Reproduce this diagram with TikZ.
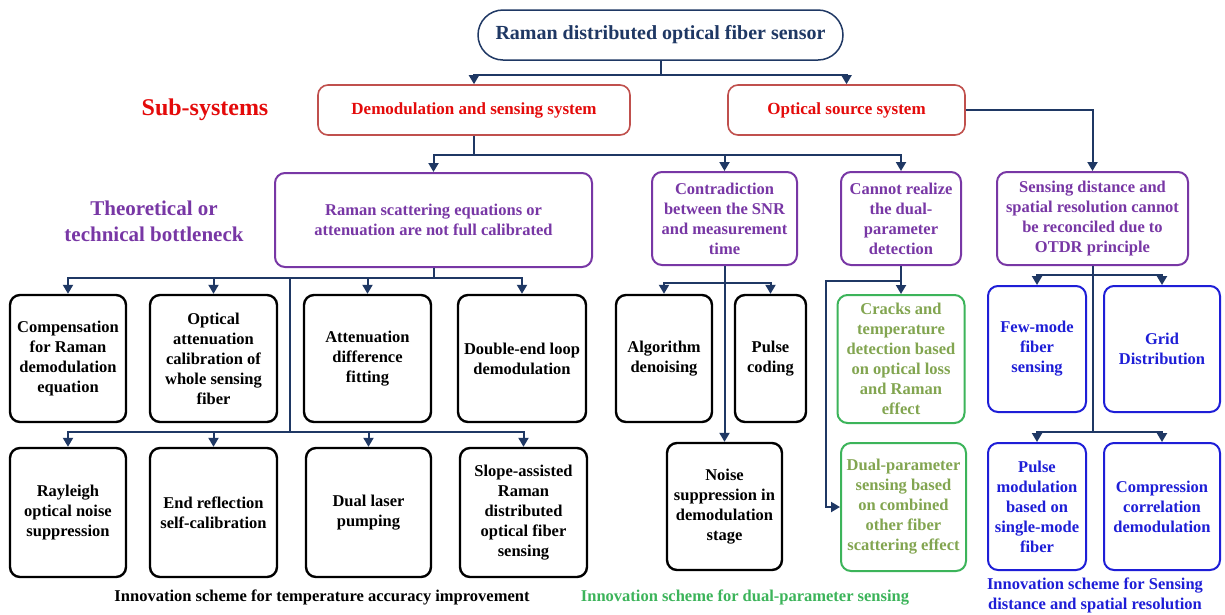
\documentclass[tikz,border=0pt]{standalone}
\usepackage{fontspec}
\setmainfont{Liberation Serif}
\usetikzlibrary{arrows.meta}

\definecolor{navy}{RGB}{31,56,100}
\definecolor{subred}{RGB}{192,80,77}
\definecolor{txtred}{RGB}{228,10,10}
\definecolor{bottlepurple}{RGB}{120,55,165}
\definecolor{schgreen}{RGB}{60,180,90}
\definecolor{schgreentext}{RGB}{130,165,80}
\definecolor{schblue}{RGB}{30,30,215}

\begin{document}
\begin{tikzpicture}[
x=1pt, y=-1pt,
font=\fontsize{16.5}{20}\selectfont\bfseries,
box/.style={draw, rectangle, rounded corners=10pt, align=center, line width=2pt, inner sep=1pt},
subbox/.style={box, draw=subred, text=txtred, line width=1.6pt, minimum height=50pt, font=\fontsize{17}{20}\selectfont\bfseries},
neckbox/.style={box, draw=bottlepurple, text=bottlepurple, minimum height=93pt},
plainbox/.style={box, draw=black, text=black, line width=2.4pt},
greenbox/.style={box, draw=schgreen, text=schgreentext},
bluebox/.style={box, draw=schblue, text=schblue},
label/.style={align=center, inner sep=0pt},
line/.style={draw=navy, line width=2pt},
arrow/.style={line, -{Triangle[width=10pt,length=9pt]}}
]

\fill[white] (0,0) rectangle (1225,614);
\useasboundingbox (0,0) rectangle (1225,614);

% levels of the connectors
\coordinate (j1) at (0,75);
\coordinate (j2) at (0,155);
\coordinate (j3) at (0,278);
\coordinate (j4) at (0,432);
\coordinate (j5) at (0,283);
\coordinate (j7) at (0,275);
\coordinate (trunk) at (290,278);
\coordinate (side) at (826,281);

% top
\node[box, draw=navy, text=navy, line width=1.5pt, rounded corners=25pt, minimum width=365pt, minimum height=50pt,
font=\fontsize{20}{24}\selectfont\bfseries] (top) at (660.5,35)
{Raman distributed optical fiber sensor};

% sub-systems
\node[label, text=txtred, font=\fontsize{24}{28}\selectfont\bfseries] (sublabel) at (205,110) {Sub-systems};
\node[subbox, minimum width=312pt] (demod) at (474,110) {Demodulation and sensing system};
\node[subbox, minimum width=237pt] (optsrc) at (846.5,110) {Optical source system};

% bottlenecks
\node[label, text=bottlepurple, font=\fontsize{21}{26}\selectfont\bfseries] (necklabel) at (154,221)
{Theoretical or\\technical bottleneck};
\node[neckbox, minimum width=317pt, minimum height=94pt] (raman) at (433.5,220)
{Raman scattering equations or\\attenuation are not full calibrated};
\node[neckbox, minimum width=145pt] (contra) at (724.5,218.5)
{Contradiction\\between the SNR\\and measurement\\time};
\node[neckbox, minimum width=120pt] (cannot) at (901,218.5)
{Cannot realize\\the dual-\\parameter\\detection};
\node[neckbox, minimum width=191pt] (sensing) at (1092.5,218.5)
{Sensing distance and\\spatial resolution cannot\\be reconciled due to\\OTDR principle};

% temperature accuracy schemes
\node[plainbox, minimum width=116pt, minimum height=127pt] (comp) at (68,358.5)
{Compensation\\for Raman\\demodulation\\equation};
\node[plainbox, minimum width=127pt, minimum height=127pt] (optatt) at (213.5,358.5)
{Optical\\attenuation\\calibration of\\whole sensing\\fiber};
\node[plainbox, minimum width=127pt, minimum height=127pt] (attdiff) at (367.5,358.5)
{Attenuation\\difference\\fitting};
\node[plainbox, minimum width=128pt, minimum height=127pt] (double) at (522,358.5)
{Double-end loop\\demodulation};
\node[plainbox, minimum width=116pt, minimum height=129pt] (rayleigh) at (68,512.5)
{Rayleigh\\optical noise\\suppression};
\node[plainbox, minimum width=127pt, minimum height=129pt] (endref) at (213.5,512.5)
{End reflection\\self-calibration};
\node[plainbox, minimum width=125pt, minimum height=129pt] (duallaser) at (368.5,512.5)
{Dual laser\\pumping};
\node[plainbox, minimum width=127pt, minimum height=129pt] (slope) at (523.5,512.5)
{Slope-assisted\\Raman\\distributed\\optical fiber\\sensing};

\node[plainbox, minimum width=96pt, minimum height=127pt] (algo) at (664,358.5)
{Algorithm\\denoising};
\node[plainbox, minimum width=71pt, minimum height=127pt] (pulsecod) at (770.5,358.5)
{Pulse\\coding};
\node[plainbox, minimum width=115pt, minimum height=127pt] (noise) at (724.5,506.5)
{Noise\\suppression in\\demodulation\\stage};

% dual-parameter schemes
\node[greenbox, minimum width=127pt, minimum height=128pt] (cracks) at (901,359)
{Cracks and\\temperature\\detection based\\on optical loss\\and Raman\\effect};
\node[greenbox, minimum width=125pt, minimum height=128pt] (dualpar) at (903.5,507)
{Dual-parameter\\sensing based\\on combined\\other fiber\\scattering effect};

% distance and resolution schemes
\node[bluebox, minimum width=98pt, minimum height=126pt] (fewmode) at (1037,349)
{Few-mode\\fiber\\sensing};
\node[bluebox, minimum width=116pt, minimum height=126pt] (grid) at (1162,349)
{Grid\\Distribution};
\node[bluebox, minimum width=98pt, minimum height=127pt] (pulsemod) at (1037,506.5)
{Pulse\\modulation\\based on\\single-mode\\fiber};
\node[bluebox, minimum width=116pt, minimum height=127pt] (compress) at (1162,506.5)
{Compression\\correlation\\demodulation};

% captions
\node[label, text=black] (captemp) at (322,597)
{Innovation scheme for temperature accuracy improvement};
\node[label, text=schgreen] (capdual) at (745,597)
{Innovation scheme for dual-parameter sensing};
\node[label, text=schblue] (capdist) at (1095,595)
{Innovation scheme for Sensing\\distance and spatial resolution};

% connectors
\draw[arrow] (top.south) -- (top.south |- j1) -| (demod.north);
\draw[arrow] (top.south |- j1) -| (optsrc.north);

\draw[arrow] (demod.south) -- (demod.south |- j2) -| (raman.north);
\draw[arrow] (demod.south |- j2) -| (contra.north);
\draw[arrow] (demod.south |- j2) -| (cannot.north);
\draw[arrow] (optsrc.east) -| (sensing.north);

\draw[arrow] (raman.south) -- (raman.south |- j3) -| (comp.north);
\draw[arrow] (raman.south |- j3) -| (optatt.north);
\draw[arrow] (raman.south |- j3) -| (attdiff.north);
\draw[arrow] (raman.south |- j3) -| (double.north);
\draw[line] (trunk) -- (trunk |- j4);
\draw[arrow] (trunk |- j4) -| (rayleigh.north);
\draw[arrow] (trunk |- j4) -| (endref.north);
\draw[arrow] (trunk |- j4) -| (duallaser.north);
\draw[arrow] (trunk |- j4) -| (slope.north);

\draw[arrow] (contra.south) -- (noise.north);
\draw[arrow] (contra.south |- j5) -| (algo.north);
\draw[arrow] (contra.south |- j5) -| (pulsecod.north);

\draw[arrow] (cannot.south) -- (cracks.north);
\draw[arrow] (cannot.south |- side) -- (side) |- (dualpar.west);

\draw[line] (sensing.south) -- (sensing.south |- j4);
\draw[arrow] (sensing.south |- j7) -| (fewmode.north);
\draw[arrow] (sensing.south |- j7) -| (grid.north);
\draw[arrow] (sensing.south |- j4) -| (pulsemod.north);
\draw[arrow] (sensing.south |- j4) -| (compress.north);

\end{tikzpicture}
\end{document}
